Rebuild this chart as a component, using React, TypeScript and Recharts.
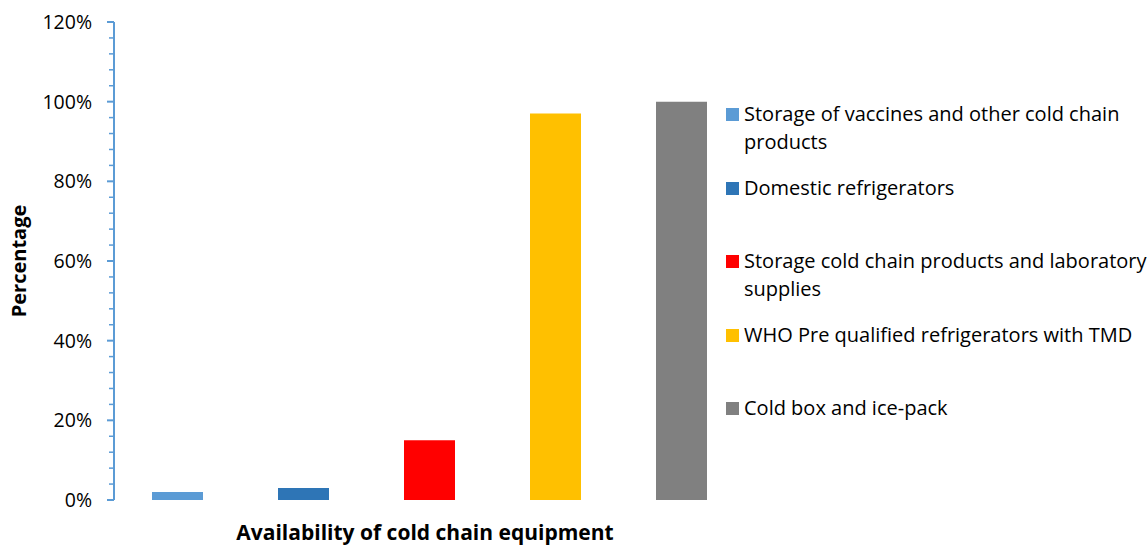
import { BarChart, Bar, Cell, XAxis, YAxis } from 'recharts';

const categories = [
  'Storage of vaccines and other cold chain products',
  'Domestic refrigerators',
  'Storage cold chain products and laboratory supplies',
  'WHO Pre qualified refrigerators with TMD',
  'Cold box and ice-pack',
];
const values = [2, 3, 15, 97, 100];
const colors = ['#5b9bd5', '#2e75b6', '#ff0000', '#ffc000', '#808080'];
const yTicks = [0, 4, 8, 12, 16, 20, 24, 28, 32, 36, 40, 44, 48, 52, 56, 60, 64, 68, 72, 76, 80, 84, 88, 92, 96, 100, 104, 108, 112, 116, 120];

const FONT = '"Open Sans", Lato, sans-serif';
const AXIS_BLUE = '#5b9bd5';

const data = categories.map((name, i) => ({ name, value: values[i] }));

function YTick(props: any) {
  const { x, y, payload } = props;
  const major = payload.value % 20 === 0;
  return (
    <g>
      <line
        x1={x - (major ? 7 : 5)}
        x2={x}
        y1={y}
        y2={y}
        stroke={AXIS_BLUE}
        strokeWidth={major ? 2 : 1.5}
      />
      {major && (
        <text x={x - 22} y={y} dy={7} textAnchor="end" fill="#000" fontSize={19.5} fontFamily={FONT}>
          {payload.value}%
        </text>
      )}
    </g>
  );
}

// legend drawn beside the plot, one fixed-height slot per category
function LegendBox() {
  return (
    <div
      style={{
        position: 'absolute',
        left: 726,
        top: 100,
        fontFamily: FONT,
        fontSize: 20,
        color: '#000',
      }}
    >
      {categories.map((c, i) => (
        <div key={c} style={{ height: 73.5, display: 'flex', alignItems: 'flex-start' }}>
          <span
            style={{
              width: 13,
              height: 13,
              background: colors[i],
              marginTop: 8,
              marginRight: 5,
              flex: 'none',
            }}
          />
          <span style={{ width: 410, lineHeight: '28px' }}>{c}</span>
        </div>
      ))}
    </div>
  );
}

export default function App() {
  return (
    <div style={{ position: 'absolute', left: 0, top: 0, width: 1148, height: 546, background: '#fff', overflow: 'hidden' }}>
      <BarChart
        width={1148}
        height={546}
        data={data}
        margin={{ top: 22, right: 404, left: 0, bottom: 0 }}
      >
        <XAxis
          dataKey="name"
          tick={false}
          tickLine={false}
          axisLine={false}
          height={46}
          label={{
            content: (p: any) => {
              const vb = p.viewBox;
              return (
                <text
                  x={vb.x + vb.width / 2 - 4}
                  y={vb.y + 40}
                  textAnchor="middle"
                  fontFamily={FONT}
                  fontWeight="bold"
                  fontSize={21}
                  fill="#000"
                >
                  Availability of cold chain equipment
                </text>
              );
            },
          }}
        />
        <YAxis
          width={114}
          domain={[0, 120]}
          ticks={yTicks}
          interval={0}
          tickSize={0}
          tickMargin={0}
          tickLine={false}
          axisLine={{ stroke: AXIS_BLUE, strokeWidth: 2 }}
          tick={<YTick />}
          label={{
            content: (p: any) => {
              const vb = p.viewBox;
              const cx = vb.x + 18;
              const cy = vb.y + vb.height / 2;
              return (
                <text
                  x={cx}
                  y={cy}
                  transform={`rotate(-90 ${cx} ${cy})`}
                  textAnchor="middle"
                  dominantBaseline="central"
                  fontFamily={FONT}
                  fontWeight="bold"
                  fontSize={20}
                  fill="#000"
                >
                  Percentage
                </text>
              );
            },
          }}
        />
        <Bar dataKey="value" barSize={51} isAnimationActive={false}>
          {data.map((d, i) => (
            <Cell key={d.name} fill={colors[i]} />
          ))}
        </Bar>
      </BarChart>
      <LegendBox />
    </div>
  );
}
